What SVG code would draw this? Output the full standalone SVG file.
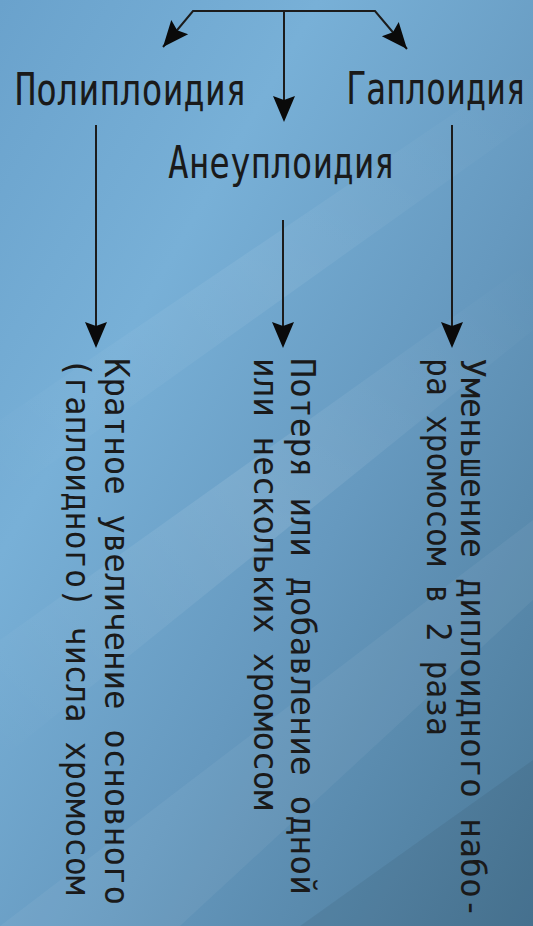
<svg xmlns="http://www.w3.org/2000/svg" width="533" height="926" viewBox="0 0 533 926">
  <defs>
    <linearGradient id="bg" x1="0" y1="0" x2="1" y2="1">
      <stop offset="0" stop-color="#6aa2cc"/>
      <stop offset="0.3" stop-color="#78b0d7"/>
      <stop offset="0.6" stop-color="#6699bf"/>
      <stop offset="1" stop-color="#4a7897"/>
    </linearGradient>
    <linearGradient id="streak" x1="0" y1="1" x2="1" y2="0">
      <stop offset="0" stop-color="#ffffff" stop-opacity="0"/>
      <stop offset="0.5" stop-color="#ffffff" stop-opacity="0.10"/>
      <stop offset="1" stop-color="#ffffff" stop-opacity="0"/>
    </linearGradient>
    <path id="ah" d="M0,0 L-11,-26 L0,-22 L11,-26 Z"/>
    <style>
      .ln { stroke: #1c1c1c; stroke-width: 2; fill: none; }
      .hd { fill: #0a0a0a; }
      .lbl { font-family: "DejaVu Sans Mono", "Liberation Mono", monospace; font-size: 44px; fill: #1a1a1a; }
      .vt { font-family: "DejaVu Sans Mono", "Liberation Mono", monospace; font-size: 33px; fill: #1a1a1a; }
    </style>
  </defs>

  <rect x="0" y="0" width="533" height="926" fill="url(#bg)"/>
  <polygon points="0,640 533,260 533,330 0,760" fill="url(#streak)"/>
  <polygon points="0,420 533,60 533,120 0,500" fill="url(#streak)" opacity="0.7"/>
  <polygon points="0,926 180,926 533,600 533,520" fill="#ffffff" opacity="0.05"/>
  <polygon points="300,926 533,926 533,760" fill="#000000" opacity="0.06"/>

  <g id="connectors">
    <path class="ln" d="M163,47 L193,11 L375,11 L407,49"/>
    <path class="ln" d="M284,11 L284,110"/>
    <use href="#ah" class="hd" transform="translate(163,47) rotate(40)"/>
    <use href="#ah" class="hd" transform="translate(407,49) rotate(-40)"/>
    <use href="#ah" class="hd" transform="translate(284,122)"/>
    <path class="ln" d="M96,125 L96,336"/>
    <use href="#ah" class="hd" transform="translate(96,348)"/>
    <path class="ln" d="M283,220 L283,336"/>
    <use href="#ah" class="hd" transform="translate(283,348)"/>
    <path class="ln" d="M452,125 L452,336"/>
    <use href="#ah" class="hd" transform="translate(452,348)"/>
  </g>

  <g id="poly">
    <text class="lbl" transform="translate(15,105) scale(0.796,1)">Полиплоидия</text>
  </g>
  <g id="aneu">
    <text class="lbl" transform="translate(168,178) scale(0.779,1)">Анеуплоидия</text>
  </g>
  <g id="haplo">
    <text class="lbl" transform="translate(346,104) scale(0.755,1)">Гаплоидия</text>
  </g>

  <g id="poly-desc">
    <text class="vt" transform="translate(105,358) rotate(90)" textLength="547" lengthAdjust="spacingAndGlyphs">Кратное увеличение основного</text>
    <text class="vt" transform="translate(66,358) rotate(90)" textLength="537" lengthAdjust="spacingAndGlyphs">(гаплоидного) числа хромосом</text>
  </g>
  <g id="aneu-desc">
    <text class="vt" transform="translate(291,358) rotate(90)" textLength="537" lengthAdjust="spacingAndGlyphs">Потеря или добавление одной</text>
    <text class="vt" transform="translate(254,358) rotate(90)" textLength="452" lengthAdjust="spacingAndGlyphs">или нескольких хромосом</text>
  </g>
  <g id="haplo-desc">
    <text class="vt" transform="translate(461,358) rotate(90)" textLength="560" lengthAdjust="spacingAndGlyphs">Уменьшение диплоидного набо-</text>
    <text class="vt" transform="translate(427,358) rotate(90)" textLength="378" lengthAdjust="spacingAndGlyphs">ра хромосом в 2 раза</text>
  </g>
</svg>
